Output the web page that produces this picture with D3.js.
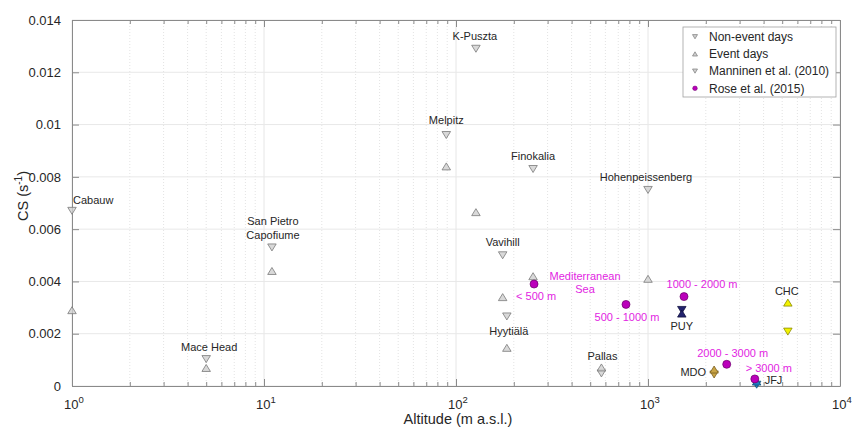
<!DOCTYPE html>
<html>
<head>
<meta charset="utf-8">
<script src="https://cdn.jsdelivr.net/npm/d3@7"></script>
<style>
  html, body { margin: 0; padding: 0; background: #fff; }
  svg { display: block; font-family: "Liberation Sans", Arial, Helvetica, sans-serif; }
</style>
</head>
<body>
<svg id="chart" width="853" height="428"></svg>
<script>
// ---------------- DATA ----------------
const stations = ["Cabauw", "Mace Head", "San Pietro Capofiume", "Melpitz", "K-Puszta",
                  "Finokalia", "Hohenpeissenberg", "Vavihill", "Hyytiälä", "Pallas"];
const stationAltitude = [1, 5, 11, 89, 127, 252, 1000, 175, 184, 572];
const stationNonEventCS = [0.0067, 0.00103, 0.0053, 0.0096, 0.0129, 0.0083, 0.0075, 0.0050, 0.00266, 0.00048];
const stationEventCS    = [0.0029, 0.00069, 0.0044, 0.0084, 0.00665, 0.0042, 0.0041, 0.0034, 0.00146, 0.00071];

const highSites = ["PUY", "MDO", "JFJ", "CHC"];
const highAltitude = [1500, 2210, 3680, 5350];
const highNonEventCS = [0.00291, 0.00044, 0.00005, 0.00208];
const highEventCS    = [0.00277, 0.00063, 0.00017, 0.00319];

const roseLabels = ["< 500 m", "500 - 1000 m", "1000 - 2000 m", "2000 - 3000 m", "> 3000 m"];
const roseAltitude = [255, 768, 1540, 2570, 3600];
const roseCS = [0.0039, 0.00312, 0.00342, 0.00083, 0.00027];

const legendLabels = ["Non-event days", "Event days", "Manninen et al. (2010)", "Rose et al. (2015)"];
const yTickValues = [0, 0.002, 0.004, 0.006, 0.008, 0.01, 0.012, 0.014];
const yTickLabels = ["0", "0.002", "0.004", "0.006", "0.008", "0.01", "0.012", "0.014"];
const xTickExponents = [0, 1, 2, 3, 4];

// ---------------- STYLE / LAYOUT ----------------
const highColors = {PUY: ["#23236e", "#111140"], MDO: ["#c9a445", "#7a6020"], JFJ: ["#1f7fc4", "#10507a"], CHC: ["#f2f200", "#8a8a00"]};
const grayFill = "#cfcfcf", grayStroke = "#7a7a7a";
const purpleFill = "#bb00bb", purpleStroke = "#6a006a";
const magenta = "#e21ee2";
const textColor = "#262626";
const axisColor = "#8a8a8a";

// label offsets relative to upper marker (px)
const stationLabelLayout = {
  "Cabauw": {dx: 1, dy: -11, anchor: "start"},
  "Mace Head": {dx: 3, dy: -12, anchor: "middle"},
  "San Pietro Capofiume": {dx: 1, dy: -26, anchor: "middle", lines: ["San Pietro", "Capofiume"]},
  "Melpitz": {dx: 0, dy: -15, anchor: "middle"},
  "K-Puszta": {dx: -1, dy: -13, anchor: "middle"},
  "Finokalia": {dx: 0, dy: -13, anchor: "middle"},
  "Hohenpeissenberg": {dx: -2, dy: -13, anchor: "middle"},
  "Vavihill": {dx: 0, dy: -13, anchor: "middle"},
  "Hyytiälä": {dx: 2, dy: 15, anchor: "middle"},
  "Pallas": {dx: 1, dy: -11, anchor: "middle"},
  "PUY": {dx: 0, dy: 16, anchor: "middle"},
  "MDO": {dx: -8, dy: 3, anchor: "end"},
  "JFJ": {dx: 8, dy: -1, anchor: "start"},
  "CHC": {dx: -1, dy: -11, anchor: "middle"}
};
const roseLabelLayout = [
  {dx: -18, dy: 12, anchor: "start"},
  {dx: 1, dy: 13, anchor: "middle"},
  {dx: 18, dy: -12, anchor: "middle"},
  {dx: 6, dy: -11, anchor: "middle"},
  {dx: 14, dy: -11, anchor: "middle"}
];

const plot = {left: 72, right: 840, top: 20, bottom: 386};

const svg = d3.select("#chart");
const x = d3.scaleLog().domain([1, 1e4]).range([plot.left, plot.right]);
const y = d3.scaleLinear().domain([0, 0.014]).range([plot.bottom, plot.top]);

// ---------------- GRID ----------------
const minorX = [];
for (let e = 0; e < 4; e++) for (let m = 2; m <= 9; m++) minorX.push(m * Math.pow(10, e));
const majorX = xTickExponents.map(e => Math.pow(10, e));

const grid = svg.append("g");
grid.selectAll("line.minor").data(minorX).enter().append("line")
  .attr("x1", d => x(d)).attr("x2", d => x(d))
  .attr("y1", plot.top).attr("y2", plot.bottom)
  .attr("stroke", "#e3e3e3").attr("stroke-width", 1).attr("stroke-dasharray", "1,2");
grid.selectAll("line.majx").data(majorX).enter().append("line")
  .attr("x1", d => x(d)).attr("x2", d => x(d))
  .attr("y1", plot.top).attr("y2", plot.bottom)
  .attr("stroke", "#e6e6e6").attr("stroke-width", 1);
grid.selectAll("line.majy").data(yTickValues).enter().append("line")
  .attr("x1", plot.left).attr("x2", plot.right)
  .attr("y1", d => y(d)).attr("y2", d => y(d))
  .attr("stroke", "#e8e8e8").attr("stroke-width", 1);

// ---------------- AXES ----------------
function styleAxis(g) {
  g.select(".domain").attr("stroke", axisColor);
  g.selectAll(".tick line").attr("stroke", axisColor);
  g.selectAll("text").attr("fill", textColor).attr("font-size", 13)
    .attr("font-family", '"Liberation Sans", Arial, Helvetica, sans-serif');
}

const yAxis = svg.append("g").attr("transform", `translate(${plot.left},0)`)
  .call(d3.axisLeft(y).tickValues(yTickValues).tickFormat((d, i) => yTickLabels[i])
        .tickSizeInner(-7).tickSizeOuter(0).tickPadding(11));
styleAxis(yAxis);
const yAxisR = svg.append("g").attr("transform", `translate(${plot.right},0)`)
  .call(d3.axisRight(y).tickValues(yTickValues).tickFormat("").tickSizeInner(-7).tickSizeOuter(0));
styleAxis(yAxisR);

const xAxis = svg.append("g").attr("transform", `translate(0,${plot.bottom})`)
  .call(d3.axisBottom(x).tickValues(majorX).tickFormat("").tickSizeInner(-7).tickSizeOuter(0));
styleAxis(xAxis);
const xAxisMinor = svg.append("g").attr("transform", `translate(0,${plot.bottom})`)
  .call(d3.axisBottom(x).tickValues(minorX).tickFormat("").tickSizeInner(-4).tickSizeOuter(0));
styleAxis(xAxisMinor);
xAxisMinor.select(".domain").remove();
const xAxisTop = svg.append("g").attr("transform", `translate(0,${plot.top})`)
  .call(d3.axisTop(x).tickValues(majorX).tickFormat("").tickSizeInner(-7).tickSizeOuter(0));
styleAxis(xAxisTop);
const xAxisTopMinor = svg.append("g").attr("transform", `translate(0,${plot.top})`)
  .call(d3.axisTop(x).tickValues(minorX).tickFormat("").tickSizeInner(-4).tickSizeOuter(0));
styleAxis(xAxisTopMinor);
xAxisTopMinor.select(".domain").remove();

// x tick labels 10^n
const xl = svg.append("g");
xTickExponents.forEach(e => {
  const t = xl.append("text").attr("x", x(Math.pow(10, e)) + 2).attr("y", 409)
    .attr("text-anchor", "middle").attr("fill", textColor).attr("font-size", 13);
  t.append("tspan").text("10");
  t.append("tspan").attr("dy", -6).attr("font-size", 9.5).text(String(e));
});

// axis titles
svg.append("text").attr("x", 458).attr("y", 424).attr("text-anchor", "middle")
  .attr("fill", textColor).attr("font-size", 14.5).text("Altitude (m a.s.l.)");
const yt = svg.append("text").attr("transform", "translate(28,196) rotate(-90)")
  .attr("text-anchor", "middle").attr("fill", textColor).attr("font-size", 14.5);
yt.append("tspan").text("CS (s");
yt.append("tspan").attr("dy", -6).attr("font-size", 10).text("-1");
yt.append("tspan").attr("dy", 6).text(")");

// ---------------- MARKERS ----------------
function triPath(cx, cy, w, h, up) {
  const hw = w / 2, hh = h / 2;
  if (up) return `M${cx},${cy - hh}L${cx + hw},${cy + hh}L${cx - hw},${cy + hh}Z`;
  return `M${cx - hw},${cy - hh}L${cx + hw},${cy - hh}L${cx},${cy + hh}Z`;
}
const TW = 8.5, TH = 7;

const marks = svg.append("g");
// gray stations
stations.forEach((s, i) => {
  marks.append("path").attr("d", triPath(x(stationAltitude[i]), y(stationNonEventCS[i]), TW, TH, false))
    .attr("fill", grayFill).attr("stroke", grayStroke).attr("stroke-width", 0.8).attr("fill-opacity", 0.8);
  marks.append("path").attr("d", triPath(x(stationAltitude[i]), y(stationEventCS[i]), TW, TH, true))
    .attr("fill", grayFill).attr("stroke", grayStroke).attr("stroke-width", 0.8).attr("fill-opacity", 0.8);
});
// high altitude sites
highSites.forEach((s, i) => {
  const c = highColors[s];
  marks.append("path").attr("d", triPath(x(highAltitude[i]), y(highNonEventCS[i]), TW, TH, false))
    .attr("fill", c[0]).attr("stroke", c[1]).attr("stroke-width", 0.8);
  marks.append("path").attr("d", triPath(x(highAltitude[i]), y(highEventCS[i]), TW, TH, true))
    .attr("fill", c[0]).attr("stroke", c[1]).attr("stroke-width", 0.8);
});
// Rose circles
marks.selectAll("circle.rose").data(roseCS).enter().append("circle")
  .attr("cx", (d, i) => x(roseAltitude[i])).attr("cy", d => y(d)).attr("r", 4)
  .attr("fill", purpleFill).attr("stroke", purpleStroke).attr("stroke-width", 0.7);

// ---------------- LABELS ----------------
const labels = svg.append("g").attr("font-size", 11);
function addLabel(px, py, L, txt, color) {
  const lines = L.lines || [txt];
  lines.forEach((ln, k) => {
    labels.append("text").attr("x", px + L.dx).attr("y", py + L.dy + k * 13.5)
      .attr("dy", "0.35em").attr("text-anchor", L.anchor).attr("fill", color).text(ln);
  });
}
stations.forEach((s, i) => {
  const top = Math.max(stationNonEventCS[i], stationEventCS[i]);
  addLabel(x(stationAltitude[i]), y(top), stationLabelLayout[s], s, textColor);
});
highSites.forEach((s, i) => {
  const top = Math.max(highNonEventCS[i], highEventCS[i]);
  addLabel(x(highAltitude[i]), y(top), stationLabelLayout[s], s, textColor);
});
roseLabels.forEach((s, i) => {
  addLabel(x(roseAltitude[i]), y(roseCS[i]), roseLabelLayout[i], s, magenta);
});
// Mediterranean Sea note (next to the < 500 m point)
addLabel(x(roseAltitude[0]), y(roseCS[0]), {dx: 51, dy: -8, anchor: "middle", lines: ["Mediterranean", "Sea"]}, "", magenta);

// ---------------- LEGEND ----------------
const lg = svg.append("g");
lg.append("rect").attr("x", 683).attr("y", 27).attr("width", 153).attr("height", 70)
  .attr("fill", "#fff").attr("stroke", "#a0a0a0").attr("stroke-width", 0.8);
legendLabels.forEach((t, i) => {
  const cy = 36.7 + i * 17.2;
  if (i === 3) {
    lg.append("circle").attr("cx", 695).attr("cy", cy).attr("r", 2.3)
      .attr("fill", purpleFill).attr("stroke", purpleStroke).attr("stroke-width", 0.5);
  } else {
    lg.append("path").attr("d", triPath(695, cy, 5, 4.2, i === 1))
      .attr("fill", grayFill).attr("stroke", grayStroke).attr("stroke-width", 0.7);
  }
  lg.append("text").attr("x", 709).attr("y", cy).attr("dy", "0.35em")
    .attr("font-size", 12).attr("fill", textColor).text(t);
});
</script>
</body>
</html>
